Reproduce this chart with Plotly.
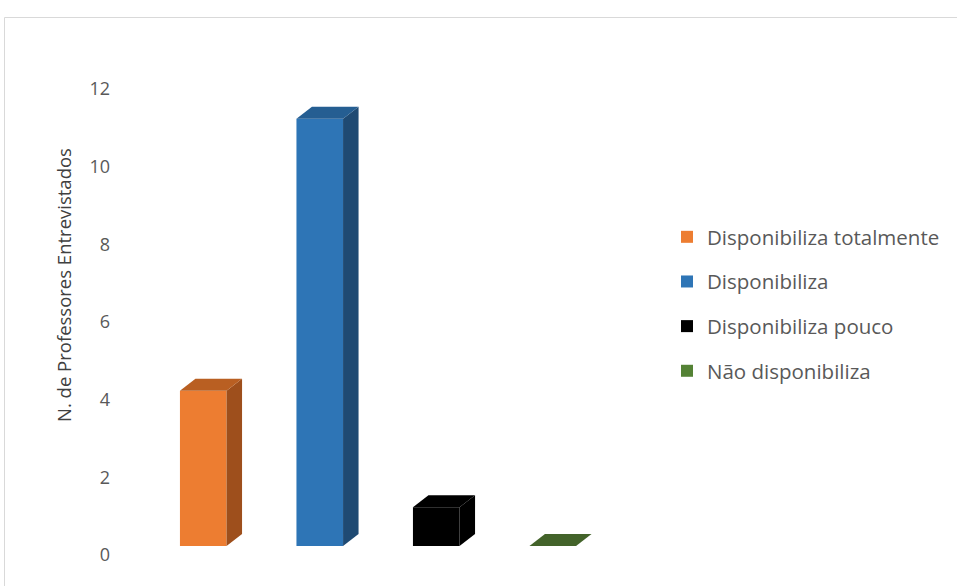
import plotly.graph_objects as go

# ---- data ----
categories = ["Disponibiliza totalmente", "Disponibiliza", "Disponibiliza pouco", "Não disponibiliza"]
values = [4, 11, 1, 0]
front_colors = ["#ED7D31", "#2E75B6", "#000000", "#548235"]
side_colors = ["#9E4F1C", "#1F4A73", "#000000", "#3A5A24"]
top_colors = ["#B95F22", "#255E92", "#000000", "#43632A"]
y_ticks = [0, 2, 4, 6, 8, 10, 12]

# ---- geometry / style ----
W, H = 957, 586
plot_left, plot_right = 145, 611
plot_top, plot_bottom = 40, 575
px_per_unit = (555 - 89) / 12.0
y_lo = -(plot_bottom - 555) / px_per_unit
y_hi = 12 + (89 - plot_top) / px_per_unit
x_px_per_unit = (plot_right - plot_left) / 4.0

bar_w = 0.40
base0 = (555 - 546) / px_per_unit
dx = 15.5 / x_px_per_unit
dy = 12.0 / px_per_unit

fig = go.Figure()

for i, (cat, v) in enumerate(zip(categories, values)):
    # front face (also drives legend entry)
    fig.add_trace(go.Bar(
        x=[i], y=[v], base=[base0], width=[bar_w], name=cat,
        marker=dict(color=front_colors[i], line=dict(width=0)),
        legendgroup=cat, hoverinfo="skip",
    ))
    xl, xr = i - bar_w / 2, i + bar_w / 2
    b, t = base0, base0 + v
    # side face
    if v > 0:
        fig.add_trace(go.Scatter(
            x=[xr, xr + dx, xr + dx, xr, xr],
            y=[b, b + dy, t + dy, t, b],
            fill="toself", fillcolor=side_colors[i], mode="lines",
            line=dict(width=0, color=side_colors[i]),
            showlegend=False, hoverinfo="skip", legendgroup=cat,
        ))
    # top face
    fig.add_trace(go.Scatter(
        x=[xl, xr, xr + dx, xl + dx, xl],
        y=[t, t, t + dy, t + dy, t],
        fill="toself", fillcolor=top_colors[i], mode="lines",
        line=dict(width=0, color=top_colors[i]),
        showlegend=False, hoverinfo="skip", legendgroup=cat,
    ))

font_family = "'Open Sans', Lato, sans-serif"

fig.update_layout(
    width=W, height=H,
    margin=dict(l=0, r=0, t=0, b=0),
    paper_bgcolor="white", plot_bgcolor="white",
    barmode="overlay",
    font=dict(family=font_family, color="#595959", size=18),
    xaxis=dict(
        domain=[plot_left / W, plot_right / W],
        range=[-0.5, 3.5], showticklabels=False, showgrid=False,
        zeroline=False, showline=False, ticks="",
    ),
    yaxis=dict(
        domain=[1 - plot_bottom / H, 1 - plot_top / H],
        range=[y_lo, y_hi], tickvals=y_ticks, ticktext=[str(t) for t in y_ticks],
        showgrid=False, zeroline=False, showline=False, ticks="",
        ticklabelstandoff=34,
        tickfont=dict(size=18, color="#595959"),
    ),
    legend=dict(
        x=667 / W, y=1 - 217 / H, xanchor="left", yanchor="top",
        traceorder="grouped", tracegroupgap=15,
        font=dict(size=20.5, color="#595959"),
        bgcolor="rgba(0,0,0,0)",
    ),
    showlegend=True,
    annotations=[dict(
        text="N. de Professores Entrevistados",
        xref="paper", yref="paper", x=63 / W, y=1 - 285 / H,
        showarrow=False, textangle=-90,
        font=dict(size=18.5, color="#404040", family=font_family),
        xanchor="center", yanchor="middle",
    )],
    shapes=[dict(
        type="rect", xref="paper", yref="paper",
        x0=4.5 / W, x1=1.05, y0=-0.05, y1=1 - 17.5 / H,
        line=dict(color="#D9D9D9", width=1), fillcolor="rgba(0,0,0,0)",
        layer="below",
    )],
)

fig.write_html(
    "out.html",
    config={"displayModeBar": False},
    post_script="document.body.style.margin='0px';",
)
